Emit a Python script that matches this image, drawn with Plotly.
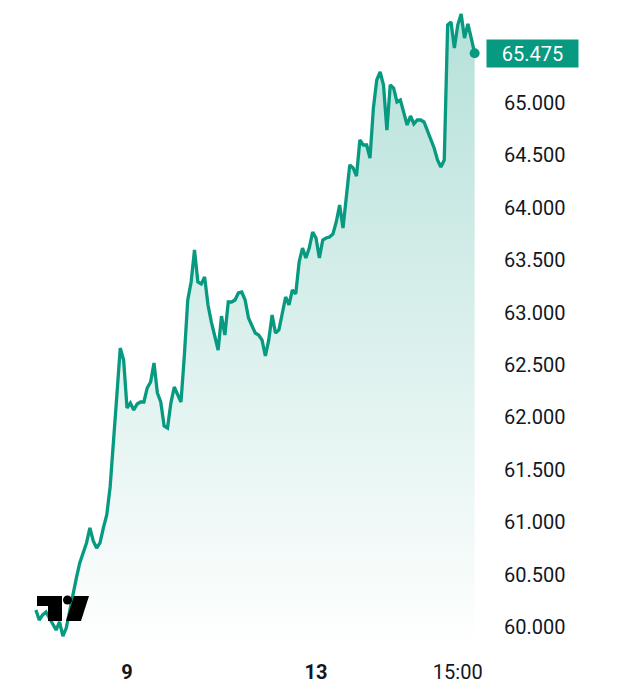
import numpy as np
import pandas as pd
import plotly.graph_objects as go

# ---- data -------------------------------------------------------------
session_days = ["2025-01-08", "2025-01-09", "2025-01-10", "2025-01-13", "2025-01-14"]
session_open = "08:00"
session_close = "21:30"   # start of last 30-minute bar
first_bar = 1             # data begins with the 08:30 bar of the first day

prices = [
    60.162, 60.067, 60.115, 60.143, 60.086, 60.029, 59.971, 60.048, 59.914, 59.990,
    60.162, 60.334, 60.468, 60.611, 60.706, 60.802, 60.945, 60.821, 60.754, 60.802,
    60.945, 61.069, 61.336, 61.737, 62.214, 62.662, 62.548, 62.090, 62.137, 62.071,
    62.128, 62.147, 62.147, 62.281, 62.338, 62.519, 62.233, 62.147, 61.918, 61.899,
    62.137, 62.290, 62.214, 62.147, 62.595, 63.120, 63.292, 63.597, 63.292, 63.273,
    63.340, 63.073, 62.910, 62.758, 62.643, 62.967, 62.786, 63.101, 63.101, 63.120,
    63.187, 63.196, 63.120, 62.948, 62.872, 62.805, 62.786, 62.739, 62.586, 62.739,
    62.977, 62.805, 62.834, 62.977, 63.149, 63.073, 63.216, 63.178, 63.483, 63.616,
    63.521, 63.616, 63.769, 63.712, 63.521, 63.693, 63.712, 63.721, 63.750, 63.865,
    64.027, 63.807, 64.094, 64.408, 64.380, 64.303, 64.647, 64.599, 64.599, 64.475,
    64.952, 65.219, 65.296, 65.172, 64.742, 65.172, 65.143, 65.010, 65.029, 64.914,
    64.790, 64.876, 64.800, 64.838, 64.838, 64.819, 64.742, 64.647, 64.571, 64.456,
    64.389, 64.456, 65.744, 65.773, 65.525, 65.744, 65.849, 65.620, 65.754, 65.620,
    65.475,
]

tick_labels = ["<b>9</b>", "<b>13</b>", "15:00"]
tick_times = ["2025-01-09 08:00", "2025-01-13 08:00", "2025-01-14 15:00"]
price_ticks = [60.0, 60.5, 61.0, 61.5, 62.0, 62.5, 63.0, 63.5, 64.0, 64.5, 65.0]

# ---- build bar index axis (TradingView-style, no gaps) -----------------
bars = pd.DatetimeIndex(np.concatenate([
    pd.date_range(f"{d} {session_open}", f"{d} {session_close}", freq="30min").values
    for d in session_days
]))
x = np.arange(first_bar, first_bar + len(prices))
tick_pos = [bars.get_loc(pd.Timestamp(t)) for t in tick_times]

TEAL = "#089981"
W, H = 620, 685
PLOT_R = 485          # right edge of plotting area (px)
PLOT_B = 650          # bottom edge of plotting area (px)

fig = go.Figure()
fig.add_trace(go.Scatter(
    x=x, y=prices, mode="lines",
    line=dict(color=TEAL, width=3.3),
    fill="tozeroy",
    fillgradient=dict(
        type="vertical",
        start=59.78, stop=65.9,
        colorscale=[[0, "rgba(8,153,129,0.0)"], [1, "rgba(8,153,129,0.30)"]],
    ),
    hoverinfo="skip", showlegend=False,
))
fig.add_trace(go.Scatter(
    x=[x[-1]], y=[prices[-1]], mode="markers",
    marker=dict(color=TEAL, size=10),
    hoverinfo="skip", showlegend=False,
))

fig.add_annotation(
    xref="paper", yref="y", x=1, y=prices[-1],
    xanchor="left", yanchor="middle", xshift=1,
    text=f"{prices[-1]:.3f}", showarrow=False,
    font=dict(family="Roboto", size=20, color="white"),
    bgcolor=TEAL, width=85, height=21, borderpad=3, align="center",
)

# TradingView logo (pixel offsets from the plot's bottom-left corner)
logo_common = dict(xref="paper", yref="paper", xsizemode="pixel", ysizemode="pixel",
                   xanchor=0, yanchor=0, fillcolor="#000000", line=dict(width=0),
                   layer="above")
fig.add_shape(type="path", path="M 37 54 L 62 54 L 62 29 L 48 29 L 48 44 L 37 44 Z", **logo_common)
fig.add_shape(type="circle", x0=63, x1=72, y0=45.5, y1=54.5, **logo_common)
fig.add_shape(type="path", path="M 74 54 L 89 54 L 81 29 L 66 29 Z", **logo_common)

px_per_bar = 94.5 / 28
bar0_px = 32.5
fig.update_layout(
    width=W, height=H,
    margin=dict(l=0, r=W - PLOT_R, t=0, b=H - PLOT_B),
    paper_bgcolor="white", plot_bgcolor="white",
    xaxis=dict(
        range=[-bar0_px / px_per_bar, (PLOT_R - bar0_px) / px_per_bar],
        tickvals=tick_pos, ticktext=tick_labels,
        showgrid=False, zeroline=False, showline=False, ticks="",
        tickfont=dict(family="Roboto", size=20, color="#131722"),
        ticklabelstandoff=8,
    ),
    yaxis=dict(
        side="right",
        range=[65 - (PLOT_B - 103) / 104.8, 65 + 103 / 104.8],
        tickvals=price_ticks, ticktext=[f"{v:.3f}" for v in price_ticks],
        showgrid=False, zeroline=False, showline=False, ticks="",
        tickfont=dict(family="Roboto", size=20, color="#131722"),
        ticklabelstandoff=18,
    ),
)

fig.write_html("out.html", config={"displayModeBar": False},
               post_script="document.body.style.margin='0';")
